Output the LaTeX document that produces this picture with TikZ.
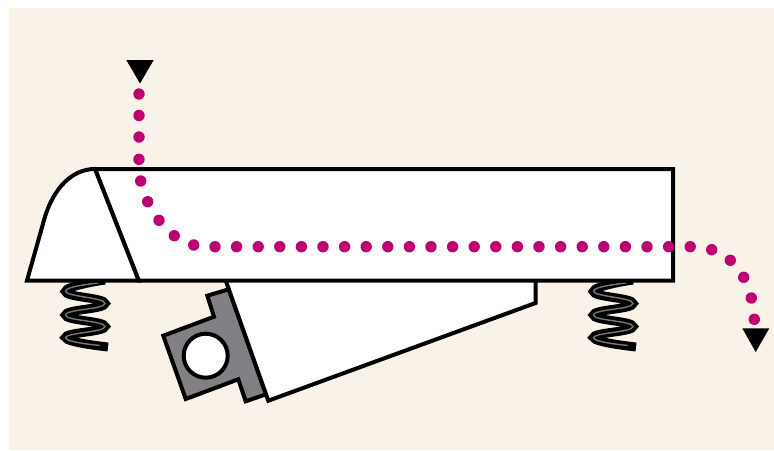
\documentclass[tikz,border=0pt]{standalone}
\definecolor{paper}{HTML}{F9F2E9}
\definecolor{bracketgrey}{HTML}{838085}
\definecolor{springgrey}{HTML}{77757A}
\definecolor{flowdot}{HTML}{BD0071}

\begin{document}
\begin{tikzpicture}[
  x=1pt, y=-1pt,
  part/.style={draw=black, line width=4pt, line join=miter, fill=white},
  bracket/.style={part, fill=bracketgrey},
  springout/.style={draw=black, line width=9pt},
  springin/.style={draw=springgrey, line width=1.4pt},
  flow/.style={fill=flowdot, draw=none},
  tip/.style={fill=black, draw=none}
]
\useasboundingbox (0,0) rectangle (774,450);
\fill[paper] (9,8) rectangle (774,450);

% ---------------- springs ----------------
\foreach \sx in {0,528} {
  \begin{scope}[xshift=\sx pt]
    \draw[springout] plot[smooth, tension=0.9] coordinates
      {(105,280) (65.5,291.5) (105,303.5) (65.5,315) (105,326.5) (65.5,337.5) (108,347)};
    \draw[springin] plot[smooth, tension=0.9] coordinates
      {(98,283) (65.5,291.5) (105,303.5) (65.5,315) (105,326.5) (65.5,337.5) (100,345.5)};
  \end{scope}
}

% ---------------- body ----------------
\draw[bracket] (228.8,289.3) -- (207.3,295.7) -- (214,316.7) -- (163.3,335.7) -- (185.7,399)
  -- (238.3,379.3) -- (245.7,401.3) -- (266,394.3) -- cycle;
\draw[part] (205.7,355.7) circle (22);
\draw[part] (225.9,281) -- (268.3,400.7) -- (535.5,303) -- (535.5,281);
\draw[part] (95,169) -- (673,169) -- (673,280.5) -- (138.7,280.5) -- cycle;
\draw[part] (95,169) .. controls (72,169) and (54,188) .. (45,216.7) -- (27,280.5) -- (138.7,280.5) -- cycle;

% ---------------- flow ----------------
\foreach \dx/\dy in {139/94, 139/115.5, 139/137, 139/159.3, 140.7/181, 147.7/201.7, 159/220.3,
    174.3/235.7, 193.7/245, 711.7/249.7, 730.3/260.3, 743.7/277.3, 751.3/298, 754.3/319.3}
  \fill[flow] (\dx,\dy) circle (5.7);
\foreach \n in {0,...,22}
  \fill[flow] ({215+\n*21.6},246.7) circle (5.7);

\fill[tip] (126.3,60) -- (153.7,60) -- (140,83.5) -- cycle;
\fill[tip] (742.3,328.3) -- (769.3,328.3) -- (755.7,352) -- cycle;
\end{tikzpicture}
\end{document}
